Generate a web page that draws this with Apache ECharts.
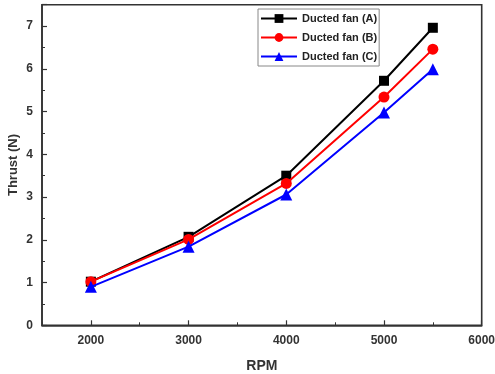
<!DOCTYPE html>
<html><head><meta charset="utf-8">
<script src="https://cdn.jsdelivr.net/npm/echarts@6/dist/echarts.min.js"></script>
<style>html,body{margin:0;padding:0;background:#fff}#c{width:495px;height:374px}</style>
</head><body><div id="c"></div>
<script>
const rpm = [2000, 3000, 4000, 5000, 5500];
const fanA = [1.02, 2.07, 3.50, 5.72, 6.96];
const fanB = [1.02, 2.01, 3.32, 5.34, 6.46];
const fanC = [0.90, 1.84, 3.06, 4.98, 5.99];
const names = ['Ducted fan (A)', 'Ducted fan (B)', 'Ducted fan (C)'];
const xMin = 1500, xMax = 6000, yMin = 0, yMax = 7.5;

const plotL = 42, plotR = 13.3, plotT = 4.7, plotB = 48.7;
const plotW = 495 - plotL - plotR;
const shift = 500 * plotW / (xMax - xMin);
const font = 'Liberation Sans, Arial, sans-serif';

function pair(arr){ return rpm.map((x,i)=>[x,arr[i]]); }

const chart = echarts.init(document.getElementById('c'), null, {renderer:'canvas'});
chart.setOption({
  animation:false,
  backgroundColor:'#fff',
  grid:[
    {left:plotL - shift, right:plotR, top:plotT, bottom:plotB, show:false, outerBoundsMode:'none', containLabel:false},
    {left:plotL, right:plotR, top:plotT, bottom:plotB, show:true, borderColor:'#333', borderWidth:1.6, backgroundColor:'transparent', outerBoundsMode:'none', containLabel:false}
  ],
  xAxis:[
    {gridIndex:0, type:'value', min:1000, max:xMax, interval:1000,
     axisLine:{show:false}, splitLine:{show:false},
     axisTick:{show:true, inside:true, length:5, lineStyle:{color:'#333', width:1.2}},
     minorTick:{show:true, splitNumber:2, length:3, lineStyle:{color:'#333', width:1}},
     axisLabel:{margin:9, color:'#333', fontFamily:font, fontSize:12, fontWeight:'bold',
       formatter:v => v < xMin ? '' : String(v)}},
    {gridIndex:1, type:'value', min:xMin, max:xMax,
     axisLine:{show:true, lineStyle:{color:'#333', width:1.6}},
     axisTick:{show:false}, axisLabel:{show:false}, splitLine:{show:false},
     name:'RPM', nameLocation:'middle', nameGap:34, nameMoveOverlap:false,
     nameTextStyle:{fontFamily:font, fontSize:14, fontWeight:'bold', color:'#333'}}
  ],
  yAxis:[
    {gridIndex:0, type:'value', min:yMin, max:yMax, show:false},
    {gridIndex:1, type:'value', min:yMin, max:yMax, interval:1,
     axisLine:{show:true, lineStyle:{color:'#333', width:1.6}},
     axisTick:{show:true, inside:true, length:5, lineStyle:{color:'#333', width:1.2}},
     minorTick:{show:true, splitNumber:2, length:3, lineStyle:{color:'#333', width:1}},
     splitLine:{show:false},
     axisLabel:{margin:9, color:'#333', fontFamily:font, fontSize:12, fontWeight:'bold',
       formatter:v => (v % 1 === 0) ? String(v) : ''},
     name:'Thrust (N)', nameLocation:'middle', nameGap:22, nameRotate:90, nameMoveOverlap:false,
     nameTextStyle:{fontFamily:font, fontSize:13, fontWeight:'bold', color:'#333'}}
  ],
  legend:{
    orient:'vertical', left:258, top:9, itemWidth:36, itemHeight:11, itemGap:8,
    padding:[4,2,4,2], borderColor:'#888', borderWidth:1, backgroundColor:'#fff',
    textStyle:{fontFamily:font, fontSize:11, fontWeight:'bold', color:'#222'},
    data:names
  },
  series:[
    {name:names[0], type:'line', xAxisIndex:0, yAxisIndex:0, data:pair(fanA),
     symbol:'rect', symbolSize:10, lineStyle:{color:'#000', width:2}, itemStyle:{color:'#000'}, z:3},
    {name:names[1], type:'line', xAxisIndex:0, yAxisIndex:0, data:pair(fanB),
     symbol:'circle', symbolSize:11, lineStyle:{color:'#ff0000', width:2}, itemStyle:{color:'#ff0000'}, z:4},
    {name:names[2], type:'line', xAxisIndex:0, yAxisIndex:0, data:pair(fanC),
     symbol:'triangle', symbolSize:12, lineStyle:{color:'#0000ff', width:2}, itemStyle:{color:'#0000ff'}, z:5}
  ]
});
</script></body></html>
